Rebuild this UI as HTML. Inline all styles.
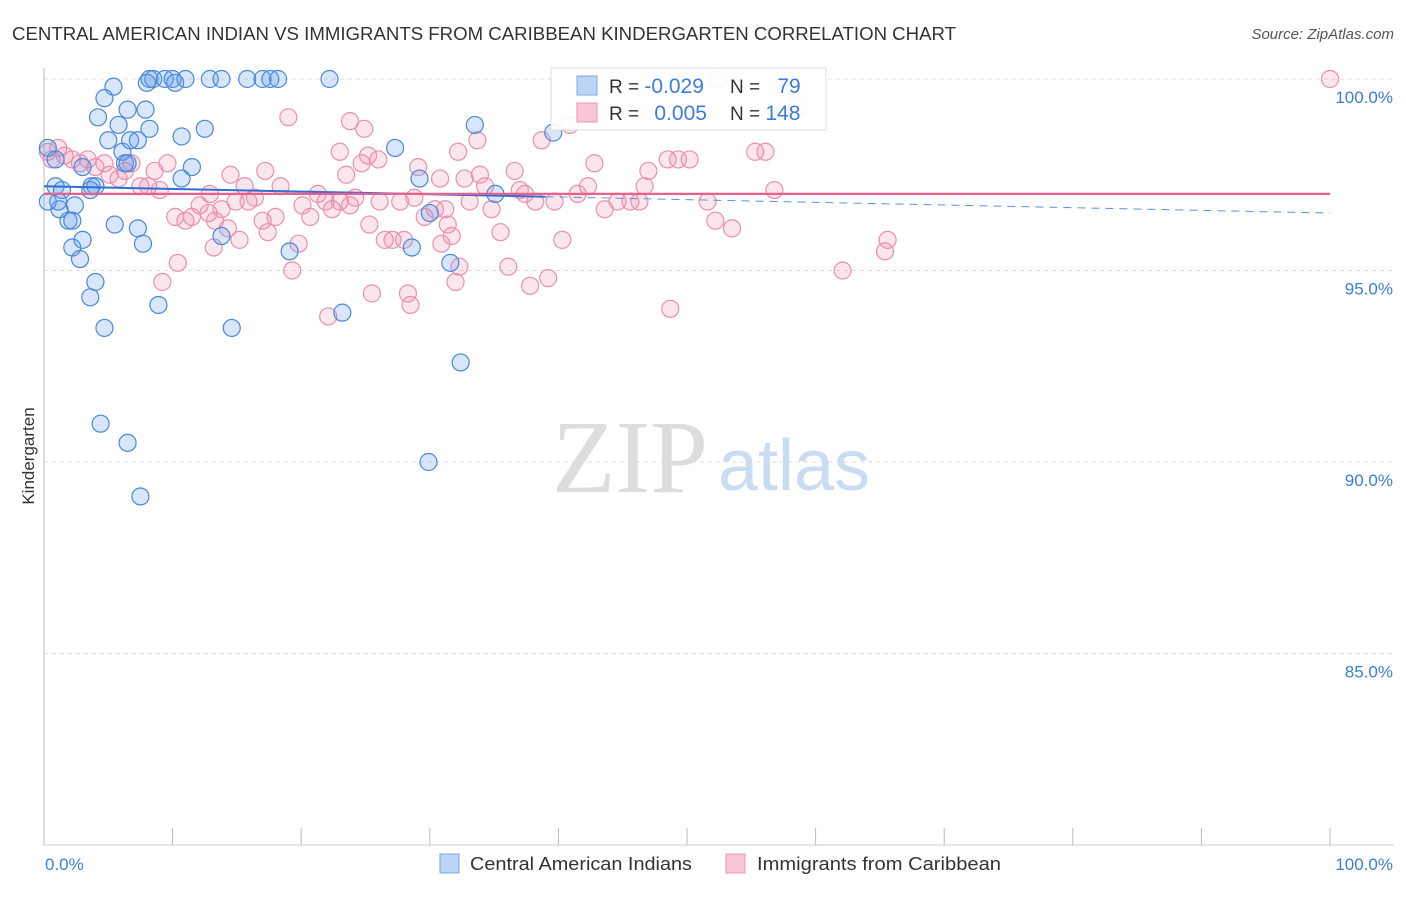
<!DOCTYPE html>
<html><head><meta charset="utf-8"><style>
body{margin:0;background:#fff;font-family:"Liberation Sans",sans-serif}
svg text{font-family:"Liberation Sans",sans-serif}
</style></head><body>
<svg id="chart" width="1406" height="892" xmlns="http://www.w3.org/2000/svg">
<text x="12" y="40" font-size="18" fill="#333" textLength="944" lengthAdjust="spacingAndGlyphs">CENTRAL AMERICAN INDIAN VS IMMIGRANTS FROM CARIBBEAN KINDERGARTEN CORRELATION CHART</text>
<text x="1394" y="39" font-size="15" fill="#555" text-anchor="end" font-style="italic">Source: ZipAtlas.com</text>
<text x="552" y="492" font-size="104" fill="#ddd" style="font-family:'Liberation Serif',serif">ZIP</text>
<text x="718" y="490" font-size="72" fill="#c9dcf2">atlas</text>
<g id="grid"></g>
<g id="pts"></g>
<g id="trend"></g>
<text transform="translate(34,456) rotate(-90)" font-size="17" fill="#333" text-anchor="middle">Kindergarten</text>
<text x="45" y="870" font-size="17" fill="#3b7dd8">0.0%</text>
<text x="1393" y="870" font-size="17" fill="#3b7dd8" text-anchor="end">100.0%</text>
<g>
<rect x="440" y="854" width="19" height="19" fill="#bcd5f5" stroke="#7aa8e6"/>
<text x="470" y="870" font-size="18" fill="#333" textLength="222" lengthAdjust="spacingAndGlyphs">Central American Indians</text>
<rect x="726" y="854" width="19" height="19" fill="#f9c6d5" stroke="#eb95b1"/>
<text x="757" y="870" font-size="18" fill="#333" textLength="244" lengthAdjust="spacingAndGlyphs">Immigrants from Caribbean</text>
</g>
<g>
<rect x="551" y="68" width="275" height="62" fill="#fff" fill-opacity="0.9" stroke="#ddd"/>
<rect x="577" y="76" width="20" height="19" fill="#bcd5f5" stroke="#7aa8e6"/>
<rect x="577" y="103" width="20" height="19" fill="#f9c6d5" stroke="#eb95b1"/>
<text x="609" y="93" font-size="19" fill="#333">R = <tspan fill="#3b7dd8" font-size="21">-0.029</tspan></text>
<text x="730" y="93" font-size="19" fill="#333">N = <tspan fill="#3b7dd8" dx="12" font-size="21">79</tspan></text>
<text x="609" y="120" font-size="19" fill="#333">R = <tspan fill="#3b7dd8" dx="10" font-size="21">0.005</tspan></text>
<text x="730" y="120" font-size="19" fill="#333">N = <tspan fill="#3b7dd8" font-size="21">148</tspan></text>
</g>
</svg>
<script>
const yTicks=[100,95,90,85];
const yTickLabels=["100.0%","95.0%","90.0%","85.0%"];
const xTicks=[0,10,20,30,40,50,60,70,80,90,100];
const blueX=[5.4,4.7,8.2,8.5,9.4,10.0,10.2,11.0,12.9,13.8,15.8,17.0,17.6,18.2,22.2,8.0,4.2,5.8,7.9,8.2,6.5,5.0,6.1,6.7,7.3,10.7,12.5,27.3,33.5,39.6,0.3,0.9,3.0,3.7,0.9,1.4,2.4,1.9,2.2,1.2,1.1,0.3,6.3,11.5,10.7,6.5,4.0,3.6,29.2,35.1,30.0,5.5,7.3,2.2,3.0,7.7,2.8,13.8,19.1,28.6,31.6,4.0,3.6,8.9,4.7,14.6,23.2,32.4,4.4,6.5,7.5,29.9];
const blueY=[99.8,99.5,100,100,100,100,99.9,100,100,100,100,100,100,100,100,99.9,99.0,98.8,99.2,98.7,99.2,98.4,98.1,98.4,98.4,98.5,98.7,98.2,98.8,98.6,98.2,97.9,97.7,97.2,97.2,97.1,96.7,96.3,96.3,96.6,96.8,96.8,97.8,97.7,97.4,97.8,97.2,97.1,97.4,97.0,96.5,96.2,96.1,95.6,95.8,95.7,95.3,95.9,95.5,95.6,95.2,94.7,94.3,94.1,93.5,93.5,93.9,92.6,91.0,90.5,89.1,90.0];
const pinkX=[0.3,0.6,1.1,1.6,2.2,2.8,3.4,4.0,4.7,5.1,5.8,6.3,6.8,7.5,8.1,8.6,9.0,9.6,10.2,11.0,11.5,12.1,12.8,13.3,13.8,14.3,14.9,15.2,15.9,16.4,17.0,17.4,18.0,18.4,19.0,19.3,19.8,20.1,20.7,21.3,21.9,22.4,23.0,23.5,23.8,24.2,24.7,25.3,26.0,26.5,27.1,28.0,28.3,28.5,28.8,29.1,29.6,30.4,30.9,31.4,31.7,32.3,32.7,33.1,33.7,33.9,34.3,34.8,35.5,36.1,36.6,37.0,37.4,37.8,38.2,38.7,39.2,39.7,40.3,40.9,41.5,42.3,42.8,43.6,44.6,45.6,46.3,46.7,47.0,48.5,48.7,49.3,50.2,51.6,52.2,52.4,53.5,55.3,56.1,56.8,58.6,62.1,65.4,65.6,100,23.8,24.9,23.0,25.2,25.5,22.1,13.2,10.4,9.2,12.9,15.6,17.2,14.5,32.2,27.7,30.8,31.2,26.1,32.0];
const pinkY=[98.1,97.9,98.2,98.0,97.9,97.8,97.9,97.7,97.8,97.5,97.4,97.6,97.8,97.2,97.2,97.6,97.1,97.8,96.4,96.3,96.4,96.7,96.5,96.3,96.6,96.1,96.8,95.8,96.8,96.9,96.3,96.0,96.4,97.2,99.0,95.0,95.7,96.7,96.4,97.0,96.8,96.6,96.8,97.5,96.7,96.9,97.8,96.2,97.9,95.8,95.8,95.8,94.4,94.1,96.9,97.7,96.4,96.6,95.7,96.2,95.9,95.1,97.4,96.8,98.4,97.5,97.2,96.6,96.0,95.1,97.6,97.1,97.0,94.6,96.8,98.4,94.8,96.8,95.8,98.8,97.0,97.2,97.8,96.6,96.8,96.8,96.8,97.2,97.6,97.9,94.0,97.9,97.9,96.8,96.3,100,96.1,98.1,98.1,97.1,99.3,95.0,95.5,95.8,100,98.9,98.7,98.1,98.0,94.4,93.8,95.6,95.2,94.7,97.0,97.2,97.6,97.5,98.1,96.8,97.4,96.6,96.8,94.7];
const blueTrend=[97.2,96.5];
const pinkTrend=[97.0,97.0];
const NS='http://www.w3.org/2000/svg';
const X0=44,X1=1330,Y100=79,PXPER=38.3;
function sx(v){return X0+(X1-X0)*v/100;}
function sy(v){return Y100+(100-v)*PXPER;}
function mk(t,a,p){const e=document.createElementNS(NS,t);for(const k in a)e.setAttribute(k,a[k]);p.appendChild(e);return e;}
const grid=document.getElementById('grid');
yTicks.forEach((t,i)=>{
 const l=mk('line',{x1:X0,x2:1394,y1:sy(t),y2:sy(t),stroke:'#ddd','stroke-dasharray':'4,4'},grid);
 
 
 const tx=mk('text',{x:1393,y:sy(t)+24,'font-size':17,fill:'#3b7dd8','text-anchor':'end'},grid);
 tx.textContent=yTickLabels[i];
 
 
});
const ax=mk('line',{x1:X0,x2:X0,y1:68,y2:845,stroke:'#bbb'},grid);


const bx=mk('line',{x1:X0,x2:1394,y1:845,y2:845,stroke:'#ccc'},grid);


xTicks.forEach(t=>{
 const l=mk('line',{x1:sx(t),x2:sx(t),y1:828,y2:845,stroke:'#bbb'},grid);
 
 
});
const pts=document.getElementById('pts');
pinkX.forEach((x,i)=>{
 const c=mk('circle',{cx:sx(x),cy:sy(pinkY[i]),r:8.5,fill:'rgba(240,130,165,0.2)',stroke:'#eb8fae','stroke-width':1.2},pts);
 
 
});
blueX.forEach((x,i)=>{
 const c=mk('circle',{cx:sx(x),cy:sy(blueY[i]),r:8.5,fill:'rgba(100,160,230,0.26)',stroke:'#4a88dc','stroke-width':1.2},pts);
 
 
});
const tr=document.getElementById('trend');
const bm=blueTrend[0]+(blueTrend[1]-blueTrend[0])*0.39;
const b1=mk('line',{x1:sx(0),y1:sy(blueTrend[0]),x2:sx(39),y2:sy(bm),stroke:'#2f6fd0','stroke-width':2},tr);


const b2=mk('line',{x1:sx(39),y1:sy(bm),x2:sx(100),y2:sy(blueTrend[1]),stroke:'#5a92dd','stroke-width':1,'stroke-dasharray':'8,6'},tr);


const p1=mk('line',{x1:sx(0),y1:sy(pinkTrend[0]),x2:sx(100),y2:sy(pinkTrend[1]),stroke:'#e8608c','stroke-width':2.2},tr);


</script>
</body></html>
